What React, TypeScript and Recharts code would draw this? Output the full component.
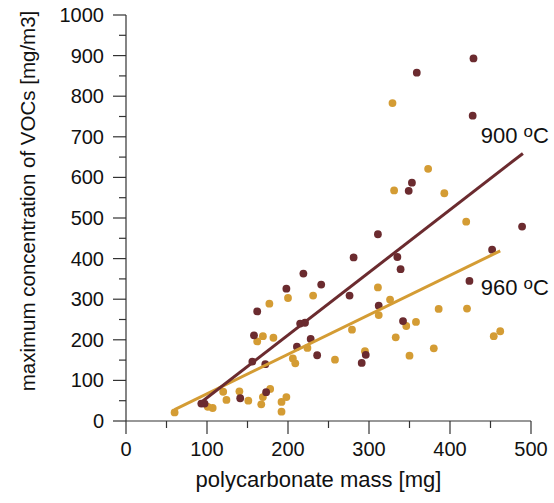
import { ScatterChart, Scatter, XAxis, YAxis, ReferenceDot, Label } from 'recharts'

const FONT = '"Liberation Sans", Arial, sans-serif'
const MAROON = '#6b2b2f'
const GOLD = '#d49c34'
const AXIS = '#333'

// ticks every 50, labels on the hundreds only
const xTicks = [0, 50, 100, 150, 200, 250, 300, 350, 400, 450, 500]
const yTicks = [0, 50, 100, 150, 200, 250, 300, 350, 400, 450, 500, 550, 600, 650, 700, 750, 800, 850, 900, 950, 1000]

// 900 oC runs
const mass900 = [93, 97, 141, 173, 156, 172, 158, 162, 198, 211, 215, 221, 219, 228, 236, 241, 276, 281, 291, 296, 311, 312, 335, 339, 342, 349, 353, 359, 424, 428, 429, 452, 489]
const conc900 = [43, 43, 56, 71, 146, 140, 211, 270, 326, 183, 240, 242, 363, 202, 162, 336, 309, 403, 143, 163, 460, 284, 404, 374, 246, 567, 587, 858, 345, 752, 893, 422, 479]

// 960 oC runs
const mass960 = [60, 101, 107, 120, 124, 140, 151, 162, 167, 169, 169, 177, 178, 182, 192, 192, 198, 200, 206, 209, 224, 231, 258, 279, 295, 311, 312, 326, 329, 331, 333, 346, 350, 358, 373, 380, 386, 393, 420, 421, 454, 462]
const conc960 = [21, 35, 32, 72, 52, 73, 50, 196, 41, 59, 209, 289, 79, 205, 47, 23, 59, 303, 154, 142, 180, 309, 151, 225, 172, 329, 261, 299, 783, 568, 206, 234, 161, 244, 621, 179, 276, 561, 491, 277, 209, 221]

// fitted lines (end points)
const fitMass900 = [92, 490]
const fitConc900 = [45, 659]
const fitMass960 = [60, 462]
const fitConc960 = [28, 419]

const zip = (xs: number[], ys: number[]) => xs.map((x, i) => ({ x, y: ys[i] }))

const pts900 = zip(mass900, conc900)
const pts960 = zip(mass960, conc960)
const fit900 = zip(fitMass900, fitConc900)
const fit960 = zip(fitMass960, fitConc960)

function YTick(props: any) {
  const { x, y, payload } = props
  const major = payload.value % 100 === 0
  return (
    <g>
      <line x1={x - (major ? 13 : 7)} x2={x} y1={y} y2={y} stroke={AXIS} strokeWidth={1.2} />
      {major && (
        <text x={x - 22} y={y + 7} textAnchor="end" fontSize={20} fontFamily={FONT} fill="#111">
          {payload.value}
        </text>
      )}
    </g>
  )
}

function XTick(props: any) {
  const { x, y, payload } = props
  const major = payload.value % 100 === 0
  return (
    <g>
      <line x1={x} x2={x} y1={y} y2={y + (major ? 13 : 7)} stroke={AXIS} strokeWidth={1.2} />
      {major && (
        <text x={x} y={y + 35} textAnchor="middle" fontSize={20} fontFamily={FONT} fill="#111">
          {payload.value}
        </text>
      )}
    </g>
  )
}

function TempLabel({ viewBox, temp }: any) {
  return (
    <text x={viewBox.x} y={viewBox.y} fontSize={22} fontFamily={FONT} fill="#111">
      <tspan>{temp} </tspan>
      <tspan fontSize={17} dy={-6}>o</tspan>
      <tspan dy={6}>C</tspan>
    </text>
  )
}

const dot = (color: string) => (p: any) => <circle cx={p.cx} cy={p.cy} r={3.9} fill={color} />

export default function App() {
  return (
    <div style={{ position: 'absolute', left: 0, top: 0 }}>
      <ScatterChart width={554} height={503} margin={{ top: 15, right: 23, bottom: 0, left: 0 }}>
        <XAxis
          type="number"
          dataKey="x"
          domain={[0, 500]}
          ticks={xTicks}
          interval={0}
          height={82}
          tickSize={0}
          tickMargin={0}
          tickLine={false}
          tick={<XTick />}
          axisLine={{ stroke: AXIS, strokeWidth: 1.2 }}
        >
          <Label
            content={(p: any) => (
              <text
                x={p.viewBox.x + p.viewBox.width / 2 - 10}
                y={p.viewBox.y + 66}
                textAnchor="middle"
                fontSize={22}
                fontFamily={FONT}
                fill="#111"
              >
                polycarbonate mass [mg]
              </text>
            )}
          />
        </XAxis>
        <YAxis
          type="number"
          dataKey="y"
          domain={[0, 1000]}
          ticks={yTicks}
          interval={0}
          width={126}
          tickSize={0}
          tickMargin={0}
          tickLine={false}
          tick={<YTick />}
          axisLine={{ stroke: AXIS, strokeWidth: 1.2 }}
        >
          <Label
            content={(p: any) => {
              const cx = p.viewBox.x + 27.5
              const cy = p.viewBox.y + p.viewBox.height / 2 - 17
              return (
                <text
                  x={cx}
                  y={cy}
                  transform={`rotate(-90 ${cx} ${cy})`}
                  textAnchor="middle"
                  dominantBaseline="central"
                  fontSize={20.5}
                  fontFamily={FONT}
                  fill="#111"
                >
                  maximum concentration of VOCs [mg/m3]
                </text>
              )
            }}
          />
        </YAxis>
        <Scatter data={pts960} fill={GOLD} shape={dot(GOLD)} isAnimationActive={false} />
        <Scatter data={pts900} fill={MAROON} shape={dot(MAROON)} isAnimationActive={false} />
        <Scatter
          data={fit960}
          line={{ stroke: GOLD, strokeWidth: 3 }}
          shape={() => <g />}
          isAnimationActive={false}
        />
        <Scatter
          data={fit900}
          line={{ stroke: MAROON, strokeWidth: 3 }}
          shape={() => <g />}
          isAnimationActive={false}
        />
        <ReferenceDot x={438} y={685} r={0} stroke="none" label={(p: any) => <TempLabel {...p} temp="900" />} />
        <ReferenceDot x={438} y={310} r={0} stroke="none" label={(p: any) => <TempLabel {...p} temp="960" />} />
      </ScatterChart>
    </div>
  )
}
